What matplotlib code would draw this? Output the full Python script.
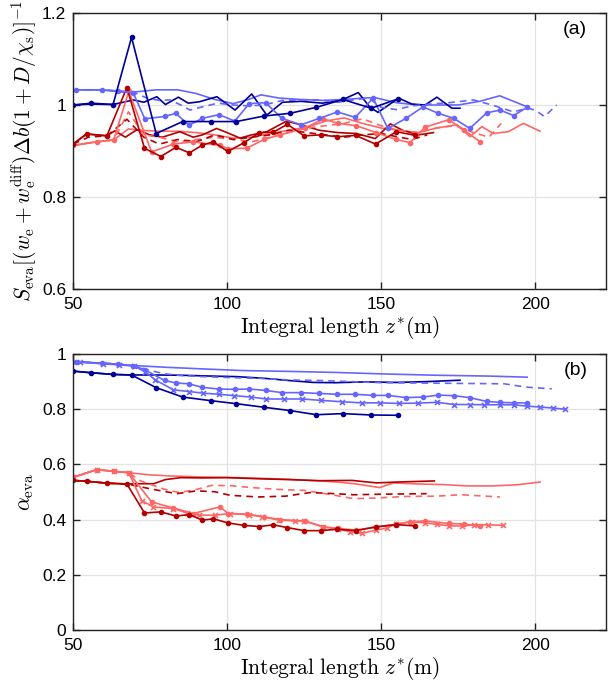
import matplotlib
matplotlib.use('Agg')
import matplotlib.pyplot as plt

plt.rcParams['mathtext.fontset'] = 'cm'
plt.rcParams['font.family'] = ['Liberation Sans', 'DejaVu Sans']

DB = '#000099'   # dark blue
LB = '#6666ff'   # light blue
DR = '#b30000'   # dark red
LR = '#ff6666'   # light red

# ---------------- panel (a) ----------------
a_lb_solid_x = [50, 59, 68, 77, 84, 90, 96, 102, 107, 111, 117, 124, 131, 138, 144, 148, 155, 162, 168, 175, 182, 188.5, 193, 197.4]
a_lb_solid_y = [1.033, 1.033, 1.027, 1.033, 1.033, 1.025, 1.012, 1.003, 1.012, 1.022, 1.015, 1.012, 1.010, 1.012, 1.015, 1.016, 1.005, 1.0, 1.0, 1.0, 1.008, 1.020, 1.008, 0.996]

a_db_solid_x = [50, 56, 63, 69.6, 73, 77.2, 80, 84.2, 87.4, 91, 96.7, 102.6, 108, 112.9, 118, 124, 131, 137, 142.6, 146.4, 149, 155.7, 160, 164.3, 168.1, 173, 175.6]
a_db_solid_y = [1.0, 1.002, 1.001, 1.011, 1.006, 1.018, 1.001, 1.017, 1.004, 1.007, 1.018, 0.989, 1.024, 0.978, 1.006, 1.008, 1.004, 1.010, 1.027, 0.995, 0.984, 1.015, 1.002, 1.000, 1.017, 0.993, 0.993]

a_lb_dash_x = [50, 60, 69.6, 74, 78, 81.5, 85, 88, 92, 97, 102, 107, 112, 118, 124, 130, 136, 142, 146, 150, 155, 160, 166, 172, 180, 186, 193, 197.4, 200, 203, 207]
a_lb_dash_y = [1.033, 1.033, 1.028, 1.015, 1.010, 1.011, 1.000, 0.989, 0.996, 1.004, 1.0, 0.998, 1.0, 1.010, 1.011, 1.011, 1.006, 1.012, 1.015, 0.995, 0.990, 0.998, 1.002, 1.005, 1.011, 1.0, 0.985, 0.993, 0.989, 0.975, 1.0]

lb_dots_x = [51, 59.4, 64.5, 69.5, 73.3, 79.7, 83.4, 87.6, 92, 97.4, 102.5, 107.2, 112.5, 117.8, 124, 130, 135.8, 141.6, 147.4, 152.2, 158.1, 163.6, 168.5, 173.6, 178.8, 184.3, 188.6, 193, 197.4]
a_lb_dots_y = [1.033, 1.033, 1.030, 1.027, 0.970, 0.975, 0.982, 0.956, 0.971, 0.979, 0.965, 1.003, 1.005, 0.971, 0.957, 0.971, 0.985, 0.973, 1.015, 0.949, 0.971, 0.996, 0.982, 0.971, 0.949, 0.983, 0.989, 0.977, 0.995]

db_dots_x = [50, 56, 63, 69, 77, 85.6, 94.7, 103, 112, 120.5, 129, 137.6, 146.8, 155.4]
a_db_dots_y = [1.0, 1.004, 1.001, 1.147, 0.938, 0.964, 0.964, 0.964, 0.976, 0.982, 0.995, 1.012, 0.993, 1.013]

dr_dots_x = [50, 54.4, 61, 67.5, 73.2, 78.5, 83.4, 87.8, 92, 95.6, 100.2, 105.5, 110.5, 115, 119.6, 125, 130.4, 135.8, 141.7, 148.2, 155, 161]
a_dr_dots_y = [0.915, 0.937, 0.933, 1.038, 0.906, 0.888, 0.908, 0.896, 0.913, 0.920, 0.899, 0.918, 0.940, 0.941, 0.958, 0.933, 0.935, 0.931, 0.934, 0.915, 0.942, 0.934]

lr_dots_x = [50, 57.7, 63.2, 68.1, 75.5, 82.6, 89, 97.7, 100.4, 106.4, 112, 117.2, 125.3, 131.3, 136, 142, 148.4, 154.9, 159.4, 164.3, 172, 177, 182.1]
a_lr_dots_y = [0.912, 0.920, 0.924, 1.030, 0.898, 0.915, 0.920, 0.912, 0.905, 0.906, 0.925, 0.935, 0.950, 0.970, 0.960, 0.955, 0.940, 0.925, 0.918, 0.952, 0.968, 0.945, 0.920]

a_lr_solid_x = [50, 57.7, 63.2, 68, 72, 78, 84, 90, 96, 102, 108, 114, 120, 126, 132, 138, 144, 150, 156, 162, 168, 174.6, 178.9, 182.7, 186.4, 191.3, 196.2, 201.6]
a_lr_solid_y = [0.912, 0.920, 0.924, 0.948, 0.945, 0.943, 0.943, 0.940, 0.935, 0.928, 0.930, 0.938, 0.945, 0.952, 0.965, 0.972, 0.960, 0.950, 0.945, 0.940, 0.950, 0.957, 0.931, 0.953, 0.938, 0.942, 0.960, 0.943]

a_dr_solid_x = [50, 54.4, 61, 63.6, 67, 70.7, 75, 79, 84.7, 89, 92, 96.6, 100, 104.2, 108, 112.9, 119.3, 125, 130, 136, 142, 148.1, 153, 157, 162, 167]
a_dr_solid_y = [0.915, 0.937, 0.933, 0.944, 0.930, 0.946, 0.935, 0.930, 0.942, 0.930, 0.935, 0.949, 0.940, 0.928, 0.935, 0.942, 0.965, 0.955, 0.945, 0.940, 0.938, 0.927, 0.959, 0.945, 0.935, 0.940]

a_dr_dash_x = [50, 55, 61, 67.5, 73, 78, 84, 90, 96, 102, 108, 114, 120, 126, 132, 138, 144, 150, 156, 160, 165]
a_dr_dash_y = [0.915, 0.930, 0.933, 0.969, 0.930, 0.915, 0.925, 0.920, 0.935, 0.925, 0.930, 0.935, 0.945, 0.940, 0.935, 0.930, 0.935, 0.938, 0.930, 0.925, 0.935]

a_lr_dash_x = [50, 57.7, 63.2, 68, 73, 78, 84, 90, 96, 102, 108, 114, 120, 126, 132, 138, 144, 150, 156, 162, 168, 174, 180, 185, 189]
a_lr_dash_y = [0.912, 0.920, 0.924, 0.985, 0.935, 0.930, 0.920, 0.925, 0.930, 0.925, 0.920, 0.930, 0.940, 0.950, 0.955, 0.960, 0.970, 0.955, 0.945, 0.940, 0.950, 0.955, 0.940, 0.930, 0.960]

# ---------------- panel (b) ----------------
b_lb_solid_x = [50, 60, 70, 80, 92, 105, 120, 136, 150, 168, 185, 197.4]
b_lb_solid_y = [0.972, 0.967, 0.958, 0.952, 0.946, 0.940, 0.937, 0.933, 0.928, 0.923, 0.920, 0.916]

b_db_solid_x = [50, 56, 63, 69, 77, 85, 95, 103, 112, 120, 128, 135, 145, 155, 165, 175.6]
b_db_solid_y = [0.938, 0.932, 0.926, 0.924, 0.924, 0.923, 0.920, 0.918, 0.912, 0.904, 0.897, 0.896, 0.899, 0.897, 0.900, 0.905]

b_lb_dash_x = [50, 60, 70, 75, 80, 85, 92, 100, 110, 120, 130, 140, 150, 160, 170, 180, 190, 197, 205.4]
b_lb_dash_y = [0.972, 0.967, 0.958, 0.940, 0.928, 0.922, 0.918, 0.915, 0.912, 0.906, 0.904, 0.900, 0.896, 0.895, 0.894, 0.893, 0.892, 0.880, 0.874]

b_lb_dots_y = [0.970, 0.967, 0.962, 0.958, 0.943, 0.904, 0.895, 0.892, 0.879, 0.873, 0.872, 0.873, 0.868, 0.860, 0.860, 0.857, 0.854, 0.854, 0.850, 0.850, 0.842, 0.844, 0.851, 0.849, 0.842, 0.828, 0.825, 0.823, 0.823]

b_lb_x_x = [52.3, 59.6, 65, 69.9, 73.5, 76.6, 82.6, 87.7, 92.3, 97.5, 102.4, 107.8, 112.7, 118.5, 124.4, 130.4, 137.2, 143.7, 149.5, 155.9, 162.1, 168.1, 173.7, 178.8, 183.5, 188.6, 193, 197.4, 201.6, 205.9, 209.7]
b_lb_x_y = [0.972, 0.964, 0.961, 0.956, 0.935, 0.907, 0.870, 0.864, 0.858, 0.854, 0.849, 0.844, 0.837, 0.837, 0.837, 0.832, 0.827, 0.823, 0.823, 0.821, 0.822, 0.825, 0.817, 0.817, 0.816, 0.816, 0.816, 0.811, 0.808, 0.804, 0.800]

b_db_dots_y = [0.938, 0.932, 0.926, 0.924, 0.878, 0.844, 0.831, 0.820, 0.807, 0.795, 0.780, 0.784, 0.779, 0.778]

b_dr_solid_x = [50, 54.4, 61, 67.5, 72, 76.2, 80, 85, 92, 100, 110, 120, 130, 140.5, 148.6, 155, 161, 167.3]
b_dr_solid_y = [0.542, 0.539, 0.532, 0.529, 0.530, 0.530, 0.545, 0.552, 0.551, 0.552, 0.548, 0.545, 0.541, 0.542, 0.533, 0.536, 0.538, 0.540]

b_lr_solid_x = [50, 57.7, 63.2, 68, 75, 82, 90, 100, 110, 120, 130, 136, 142, 149.5, 154, 162, 170, 178, 186, 194, 201.6]
b_lr_solid_y = [0.553, 0.581, 0.575, 0.570, 0.562, 0.558, 0.555, 0.553, 0.550, 0.546, 0.540, 0.536, 0.529, 0.516, 0.533, 0.529, 0.527, 0.522, 0.522, 0.526, 0.536]

b_dr_dash_x = [50, 54.4, 61, 67.5, 72.3, 76.2, 83.7, 90, 96, 101, 110, 119, 127, 135, 141, 150, 158, 164.8]
b_dr_dash_y = [0.542, 0.539, 0.532, 0.529, 0.518, 0.509, 0.494, 0.504, 0.501, 0.488, 0.482, 0.485, 0.498, 0.494, 0.490, 0.492, 0.493, 0.494]

b_lr_dash_x = [50, 57.7, 63.2, 68, 72, 76, 80, 84.5, 90, 95, 101, 108, 117, 125, 135, 141, 148, 158, 168, 176, 188.6]
b_lr_dash_y = [0.553, 0.581, 0.575, 0.570, 0.540, 0.524, 0.509, 0.498, 0.509, 0.524, 0.523, 0.516, 0.509, 0.506, 0.488, 0.476, 0.478, 0.484, 0.485, 0.490, 0.482]

b_dr_dots_y = [0.542, 0.539, 0.532, 0.529, 0.424, 0.428, 0.413, 0.418, 0.398, 0.403, 0.388, 0.379, 0.375, 0.381, 0.371, 0.360, 0.360, 0.365, 0.360, 0.373, 0.382, 0.377]

b_lr_dots_y = [0.553, 0.581, 0.575, 0.570, 0.464, 0.442, 0.422, 0.446, 0.422, 0.420, 0.410, 0.400, 0.395, 0.374, 0.368, 0.362, 0.374, 0.383, 0.392, 0.395, 0.386, 0.384, 0.376]

b_lr_x_x = [50, 57.7, 63.2, 68.1, 72.3, 76, 82.6, 87, 91, 96, 101, 107, 111.5, 117, 122, 125, 131, 136, 139.9, 143.7, 148.4, 152, 155, 160, 164.3, 168.1, 172.2, 176.2, 180.2, 184.8, 189.7]
b_lr_x_y = [0.553, 0.581, 0.575, 0.570, 0.469, 0.446, 0.440, 0.424, 0.416, 0.416, 0.422, 0.418, 0.410, 0.398, 0.395, 0.395, 0.374, 0.366, 0.356, 0.350, 0.362, 0.370, 0.385, 0.392, 0.388, 0.383, 0.377, 0.377, 0.381, 0.381, 0.379]

xticks = [50, 100, 150, 200]
yticks_a = [0.6, 0.8, 1.0, 1.2]
yticklabels_a = ['0.6', '0.8', '1', '1.2']
yticks_b = [0, 0.2, 0.4, 0.6, 0.8, 1.0]
yticklabels_b = ['0', '0.2', '0.4', '0.6', '0.8', '1']

LW = 1.2
MS = 6     # size of the dot markers
MSX = 3.6  # size of the x markers

fig = plt.figure(figsize=(6.08, 6.83), dpi=100)
ax1 = fig.add_axes([73/608, 1-289/683, 533/608, 276/683])
ax2 = fig.add_axes([73/608, 1-630/683, 533/608, 276/683])

# panel a lines
ax1.plot(a_lb_solid_x, a_lb_solid_y, '-', color=LB, lw=LW)
ax1.plot(a_db_solid_x, a_db_solid_y, '-', color=DB, lw=LW)
ax1.plot(a_lb_dash_x, a_lb_dash_y, '--', color=LB, lw=LW, dashes=(4, 3))
ax1.plot(a_lr_solid_x, a_lr_solid_y, '-', color=LR, lw=LW)
ax1.plot(a_dr_solid_x, a_dr_solid_y, '-', color=DR, lw=LW)
ax1.plot(a_lr_dash_x, a_lr_dash_y, '--', color=LR, lw=LW, dashes=(4, 3))
ax1.plot(a_dr_dash_x, a_dr_dash_y, '--', color=DR, lw=LW, dashes=(4, 3))
ax1.plot(lr_dots_x, a_lr_dots_y, '.-', color=LR, lw=LW, ms=MS)
ax1.plot(dr_dots_x, a_dr_dots_y, '.-', color=DR, lw=LW, ms=MS)
ax1.plot(lb_dots_x, a_lb_dots_y, '.-', color=LB, lw=LW, ms=MS)
ax1.plot(db_dots_x, a_db_dots_y, '.-', color=DB, lw=LW, ms=MS)

# panel b lines
ax2.plot(b_lb_solid_x, b_lb_solid_y, '-', color=LB, lw=LW)
ax2.plot(b_db_solid_x, b_db_solid_y, '-', color=DB, lw=LW)
ax2.plot(b_lb_dash_x, b_lb_dash_y, '--', color=LB, lw=LW, dashes=(4, 3))
ax2.plot(lb_dots_x, b_lb_dots_y, '.-', color=LB, lw=LW, ms=MS)
ax2.plot(b_lb_x_x, b_lb_x_y, 'x-', color=LB, lw=LW, ms=MSX, mew=1.2)
ax2.plot(db_dots_x, b_db_dots_y, '.-', color=DB, lw=LW, ms=MS)
ax2.plot(b_lr_solid_x, b_lr_solid_y, '-', color=LR, lw=LW)
ax2.plot(b_dr_solid_x, b_dr_solid_y, '-', color=DR, lw=LW)
ax2.plot(b_lr_dash_x, b_lr_dash_y, '--', color=LR, lw=LW, dashes=(4, 3))
ax2.plot(b_dr_dash_x, b_dr_dash_y, '--', color=DR, lw=LW, dashes=(4, 3))
ax2.plot(b_lr_x_x, b_lr_x_y, 'x-', color=LR, lw=LW, ms=MSX, mew=1.2)
ax2.plot(lr_dots_x, b_lr_dots_y, '.-', color=LR, lw=LW, ms=MS)
ax2.plot(dr_dots_x, b_dr_dots_y, '.-', color=DR, lw=LW, ms=MS)

xlab = r'$\mathrm{Integral\ length}\ z^{*}(\mathrm{m})$'
for ax, yt, ytl, lim in [(ax1, yticks_a, yticklabels_a, (0.6, 1.2)),
                         (ax2, yticks_b, yticklabels_b, (0, 1))]:
    ax.set_xlim(50, 223)
    ax.set_ylim(*lim)
    ax.set_xticks(xticks)
    ax.set_xticklabels([str(t) for t in xticks])
    ax.set_yticks(yt)
    ax.set_yticklabels(ytl)
    ax.grid(True, color='#e3e3e3', lw=0.9)
    ax.set_axisbelow(True)
    ax.tick_params(direction='in', length=5, width=1, top=True, right=True,
                   labelsize=12.5, pad=5, color='#222222')
    ax.tick_params(axis='x', pad=6)
    for s in ax.spines.values():
        s.set_linewidth(1.0)
        s.set_color('#222222')
    ax.set_xlabel(xlab, fontsize=15.5, labelpad=1)

ax1.set_ylabel(r'$S_{\rm eva}[(w_{\rm e}+w_{\rm e}^{\rm diff})\Delta b(1+D/\chi_{\rm s})]^{-1}$',
               fontsize=15.5, labelpad=2)
ax2.set_ylabel(r'$\alpha_{\rm eva}$', fontsize=15.5, labelpad=4)

ax1.text(0.965, 0.94, '(a)', transform=ax1.transAxes, fontsize=14, ha='right', va='center')
ax2.text(0.965, 0.94, '(b)', transform=ax2.transAxes, fontsize=14, ha='right', va='center')

fig.savefig('out.png', dpi=100)
